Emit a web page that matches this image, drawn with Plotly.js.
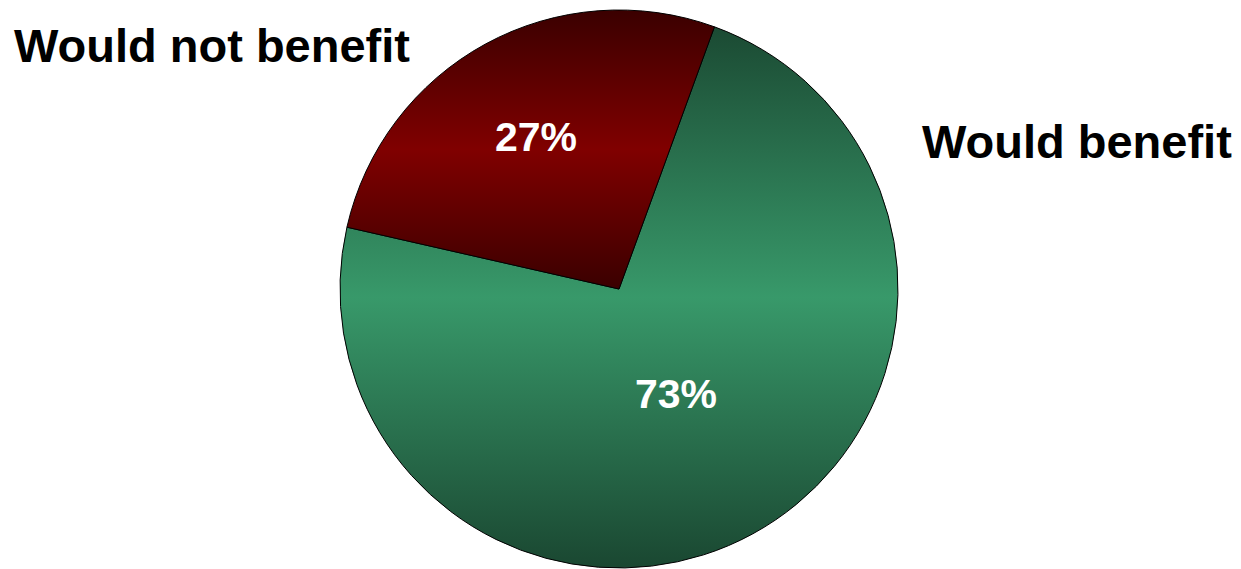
<!DOCTYPE html>
<html>
<head>
<meta charset="utf-8">
<script src="https://cdn.plot.ly/plotly-3.0.1.min.js"></script>
<style>
  html, body { margin: 0; padding: 0; background: #ffffff; }
  #chart { width: 1241px; height: 569px; }
</style>
</head>
<body>
<div id="chart"></div>
<script>
// ---- data ----
const categories = ['Would benefit', 'Would not benefit'];
const values = [73, 27];
const sliceColors = ['#2f8a5e', '#6e0000'];
// vertical gradient stops per slice: [edge, middle, edge]
const gradientStops = [
  ['#1b4a33', '#38996a', '#1a4731'],
  ['#3a0000', '#800000', '#3a0000']
];
// where each percentage label sits along its slice's mid-angle (fraction of radius)
const labelRadius = [0.43, 0.62];

const FONT = 'Liberation Sans, Arial, Helvetica, sans-serif';
const W = 1241, H = 569;
const pieBox = { left: 340, right: 898, top: 10, bottom: 568 };
const ROTATION = 20;

const trace = {
  type: 'pie',
  labels: categories,
  values: values,
  sort: false,
  direction: 'clockwise',
  rotation: ROTATION,
  marker: { colors: sliceColors, line: { color: '#000000', width: 1 } },
  textinfo: 'none',
  hoverinfo: 'label+percent',
  showlegend: false,
  domain: { x: [pieBox.left / W, pieBox.right / W], y: [1 - pieBox.bottom / H, 1 - pieBox.top / H] }
};

// percentage labels placed on each slice's mid-angle, derived from the values
const total = values.reduce(function (a, b) { return a + b; }, 0);
const cx = (pieBox.left + pieBox.right) / 2 / W;
const cyPx = (pieBox.top + pieBox.bottom) / 2;
const R = (pieBox.right - pieBox.left) / 2;
let angle = ROTATION;
const pctAnnotations = values.map(function (v, i) {
  const span = v / total * 360;
  const mid = (angle + span / 2) * Math.PI / 180;
  angle += span;
  const px = (pieBox.left + pieBox.right) / 2 + Math.sin(mid) * R * labelRadius[i];
  const py = cyPx - Math.cos(mid) * R * labelRadius[i];
  return {
    text: Math.round(v / total * 100) + '%',
    xref: 'paper', yref: 'paper',
    x: px / W, y: 1 - py / H, xanchor: 'center', yanchor: 'middle',
    showarrow: false,
    font: { family: FONT, size: 41, color: '#ffffff', weight: 700 }
  };
});

const layout = {
  width: W,
  height: H,
  margin: { l: 0, r: 0, t: 0, b: 0 },
  paper_bgcolor: '#ffffff',
  plot_bgcolor: '#ffffff',
  showlegend: false,
  annotations: [
    {
      text: categories[1], xref: 'paper', yref: 'paper',
      x: 12 / W, y: 1 - 46 / H, xanchor: 'left', yanchor: 'middle',
      showarrow: false,
      font: { family: FONT, size: 47, color: '#000000', weight: 700 }
    },
    {
      text: categories[0], xref: 'paper', yref: 'paper',
      x: 920 / W, y: 1 - 141 / H, xanchor: 'left', yanchor: 'middle',
      showarrow: false,
      font: { family: FONT, size: 47, color: '#000000', weight: 700 }
    }
  ].concat(pctAnnotations)
};

Plotly.newPlot('chart', [trace], layout, { displayModeBar: false, staticPlot: true }).then(function () {
  const svg = document.querySelector('#chart .main-svg');
  if (!svg) return;
  const NS = 'http://www.w3.org/2000/svg';
  let defs = svg.querySelector('defs');
  if (!defs) { defs = document.createElementNS(NS, 'defs'); svg.insertBefore(defs, svg.firstChild); }
  gradientStops.forEach(function (stops, i) {
    const g = document.createElementNS(NS, 'linearGradient');
    g.setAttribute('id', 'sliceGrad' + i);
    g.setAttribute('x1', '0'); g.setAttribute('y1', '0');
    g.setAttribute('x2', '0'); g.setAttribute('y2', '1');
    [0, 0.5, 1].forEach(function (off, k) {
      const s = document.createElementNS(NS, 'stop');
      s.setAttribute('offset', off);
      s.setAttribute('stop-color', stops[k]);
      g.appendChild(s);
    });
    defs.appendChild(g);
  });
  const paths = document.querySelectorAll('#chart .slice path.surface');
  paths.forEach(function (p, i) {
    p.style.fill = 'url(#sliceGrad' + i + ')';
  });
});
</script>
</body>
</html>
